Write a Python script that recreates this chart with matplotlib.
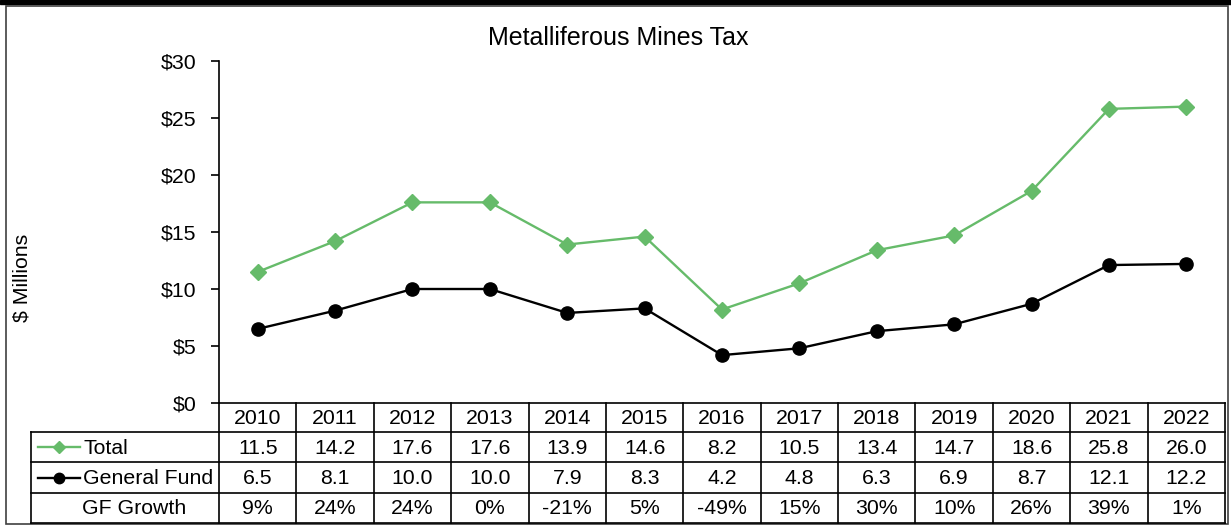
import matplotlib
matplotlib.use("Agg")
import matplotlib.pyplot as plt
from matplotlib.lines import Line2D
from matplotlib.patches import Rectangle

years = ["2010", "2011", "2012", "2013", "2014", "2015", "2016", "2017", "2018", "2019", "2020", "2021", "2022"]
total = [11.5, 14.2, 17.6, 17.6, 13.9, 14.6, 8.2, 10.5, 13.4, 14.7, 18.6, 25.8, 26.0]
general_fund = [6.5, 8.1, 10.0, 10.0, 7.9, 8.3, 4.2, 4.8, 6.3, 6.9, 8.7, 12.1, 12.2]
gf_growth = ["9%", "24%", "24%", "0%", "-21%", "5%", "-49%", "15%", "30%", "10%", "26%", "39%", "1%"]
yticks = [0, 5, 10, 15, 20, 25, 30]

plt.rcParams['font.family'] = ['Liberation Sans', 'DejaVu Sans']
W, H = 1231, 527
fig = plt.figure(figsize=(W / 100, H / 100), dpi=100)

GREEN = '#66bb6a'
FS = 15.3

def fx(px):
    return px / W

def fy(py):
    return 1 - py / H

# frame
fig.patches.append(Rectangle((0, fy(4)), 1, 4 / H, transform=fig.transFigure, color='black', zorder=0))
fig.patches.append(Rectangle((fx(5.5), fy(523.5)), fx(1228 - 5.5), (523.5 - 5.5) / H, transform=fig.transFigure,
                             fill=False, edgecolor='#404040', linewidth=1.2, zorder=0))

L, R, T, B = 219, 1225, 61, 403
ax = fig.add_axes([fx(L), fy(B), fx(R - L), (B - T) / H])
n = len(years)
x = list(range(n))
ax.plot(x, total, color=GREEN, marker='D', markersize=8.5, linewidth=1.7, zorder=3)
ax.plot(x, general_fund, color='black', marker='o', markersize=9.5, linewidth=1.7, zorder=3)
ax.set_xlim(-0.5, n - 0.5)
ax.set_ylim(0, 30)
ax.set_yticks(yticks)
ax.set_yticklabels([f"${v}" for v in yticks], fontsize=FS)
ax.set_xticks([])
for s in ['top', 'right', 'bottom']:
    ax.spines[s].set_visible(False)
ax.spines['left'].set_linewidth(1.2)
ax.tick_params(axis='y', direction='out', length=6, width=1.2, pad=10)

fig.text(fx(22), fy(278), "$ Millions", rotation=90, ha='center', va='center', fontsize=FS)
fig.text(fx(618), fy(38), "Metalliferous Mines Tax", ha='center', va='center', fontsize=18)

# table
tl = 31
rows_y = [403, 432, 462, 493, 523]
colw = (R - L) / n
lw = 1.2
def hline(y, x0, x1):
    fig.add_artist(Line2D([fx(x0), fx(x1)], [fy(y), fy(y)], color='black', linewidth=lw))
def vline(xp, y0, y1):
    fig.add_artist(Line2D([fx(xp), fx(xp)], [fy(y0), fy(y1)], color='black', linewidth=lw))

hline(rows_y[0], L, R)
for y in rows_y[1:]:
    hline(y, tl, R)
vline(tl, rows_y[1], rows_y[4])
for i in range(n + 1):
    vline(L + i * colw, rows_y[0], rows_y[4])

row_vals = [years, [f"{v:.1f}" for v in total], [f"{v:.1f}" for v in general_fund], gf_growth]
for r, vals in enumerate(row_vals):
    yc = (rows_y[r] + rows_y[r + 1]) / 2 + 1
    for i, v in enumerate(vals):
        fig.text(fx(L + (i + 0.5) * colw), fy(yc), v, ha='center', va='center', fontsize=FS)

# legend keys
yc1 = (rows_y[1] + rows_y[2]) / 2
yc2 = (rows_y[2] + rows_y[3]) / 2
yc3 = (rows_y[3] + rows_y[4]) / 2
fig.add_artist(Line2D([fx(38), fx(80)], [fy(yc1), fy(yc1)], color=GREEN, linewidth=1.7))
fig.add_artist(Line2D([fx(59)], [fy(yc1)], color=GREEN, marker='D', markersize=6.5, linestyle='none'))
fig.add_artist(Line2D([fx(38), fx(80)], [fy(yc2), fy(yc2)], color='black', linewidth=1.7))
fig.add_artist(Line2D([fx(59)], [fy(yc2)], color='black', marker='o', markersize=7.5, linestyle='none'))
fig.text(fx(83), fy(yc1 + 1), "Total", ha='left', va='center', fontsize=FS)
fig.text(fx(83), fy(yc2 + 1), "General Fund", ha='left', va='center', fontsize=FS)
fig.text(fx(134), fy(yc3 + 1), "GF Growth", ha='center', va='center', fontsize=FS)

fig.savefig("out.png", dpi=100)
